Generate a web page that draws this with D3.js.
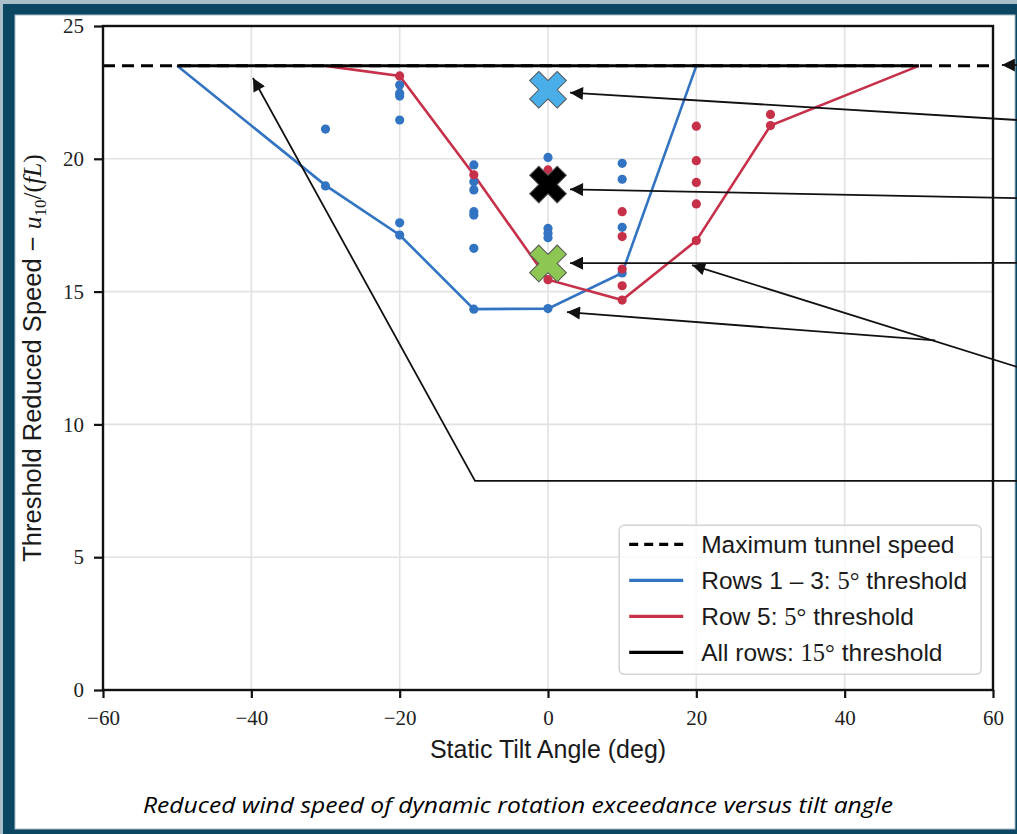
<!DOCTYPE html>
<html>
<head>
<meta charset="utf-8">
<script src="https://cdn.jsdelivr.net/npm/d3@7"></script>
<style>
  body { margin: 0; background: #0b4662; }
  svg { display: block; }
  text { font-family: "Liberation Sans", Arial, sans-serif; fill: #1a1a1a; }
  .tick text { font-family: "Liberation Serif", "DejaVu Serif", serif; font-size: 21px; fill: #222; }
  .grid line { stroke: #e2e2e2; stroke-width: 1.6; }
  .math { font-family: "Liberation Serif", serif; }
</style>
</head>
<body>
<div id="wrapper"></div>
<script>
// data (static tilt angle in deg, threshold reduced speed)
const maxTunnelSpeed = 23.5
const xTicks = [-60, -40, -20, 0, 20, 40, 60]
const yTicks = [0, 5, 10, 15, 20, 25]

const blueLineX = [-50, -30, -20, -10, 0, 10, 20]
const blueLineY = [23.5, 19.0, 17.13, 14.34, 14.36, 15.7, 23.5]

const redLineX = [-30, -20, -10, 0, 10, 20, 30, 50]
const redLineY = [23.5, 23.12, 19.4, 15.45, 14.68, 16.92, 21.25, 23.5]

const blackLineX = [-50, 50]
const blackLineY = [23.5, 23.5]

const blueDotsX = [-30, -30, -20, -20, -20, -20, -20, -20, -10, -10, -10, -10, -10, -10, -10, 0, 0, 0, 0, 0, 10, 10, 10, 10]
const blueDotsY = [21.12, 18.98, 22.78, 22.47, 22.36, 21.46, 17.59, 17.13, 19.77, 19.14, 18.83, 18.01, 17.88, 16.63, 14.34, 20.05, 17.38, 17.2, 17.03, 14.36, 19.83, 19.23, 17.42, 15.7]

const redDotsX = [-20, -10, 0, 0, 10, 10, 10, 10, 10, 20, 20, 20, 20, 20, 30, 30]
const redDotsY = [23.12, 19.4, 19.58, 15.45, 18.01, 17.07, 15.85, 15.22, 14.68, 21.23, 19.93, 19.11, 18.3, 16.92, 21.67, 21.25]

const crossX = [0, 0, 0]
const crossY = [22.6, 19.03, 16.06]

// annotation arrows, tail first, tip last (data units, tails lie past the axis)
const annotations = [
  [[64, 23.53], [61.2, 23.53]],
  [[63.3, 21.46], [2.97, 22.49]],
  [[63.3, 18.52], [2.97, 18.85]],
  [[63.3, 16.08], [2.97, 16.07]],
  [[63.3, 12.16], [19.42, 16.0]],
  [[52.2, 13.16], [2.56, 14.23]],
  [[63.3, 7.87], [-9.84, 7.87], [-39.78, 23.04]]
]

const legendLabels = ["Maximum tunnel speed", "Rows 1 \u2013 3: ", "Row 5: ", "All rows: "]
const legendMath = ["", "5°", "5°", "15°"]

const blue = "#3274c2"
const red = "#c73049"
const crossColors = ["#4aaee8", "#000000", "#8dc653"]

const width = 1017
const height = 834
const margin = { top: 26, right: 24, bottom: 144, left: 103 }
const boundedWidth = width - margin.left - margin.right
const boundedHeight = height - margin.top - margin.bottom

const svg = d3.select("#wrapper").append("svg")
    .attr("width", width)
    .attr("height", height)

// frame
svg.append("rect").attr("width", width).attr("height", height).attr("fill", "#a9c0cb")
svg.append("rect").attr("x", 3).attr("y", 4).attr("width", width - 3).attr("height", height - 4).attr("fill", "#0b4662")
svg.append("rect").attr("x", 15).attr("y", 15).attr("width", 1000).attr("height", 814)
    .attr("fill", "#fff").attr("stroke", "#a9c0cb").attr("stroke-width", 1)

const defs = svg.append("defs")
defs.append("clipPath").attr("id", "clip")
  .append("rect").attr("x", 15).attr("y", 15).attr("width", 1002).attr("height", 814)
defs.append("marker")
    .attr("id", "head")
    .attr("viewBox", "0 -5 10 10")
    .attr("refX", 10)
    .attr("markerUnits", "userSpaceOnUse")
    .attr("markerWidth", 15)
    .attr("markerHeight", 13)
    .attr("orient", "auto")
  .append("path")
    .attr("d", "M0,-5L10,0L0,5Z")
    .attr("fill", "#111")

const bounds = svg.append("g")
    .attr("transform", `translate(${margin.left}, ${margin.top})`)

const xScale = d3.scaleLinear().domain([-60, 60]).range([0, boundedWidth])
const yScale = d3.scaleLinear().domain([0, 25]).range([boundedHeight, 0])

// grid
const grid = bounds.append("g").attr("class", "grid")
grid.selectAll(".gx").data(xTicks.slice(1, -1)).join("line")
    .attr("x1", d => xScale(d)).attr("x2", d => xScale(d))
    .attr("y1", 0).attr("y2", boundedHeight)
grid.selectAll(".gy").data(yTicks.slice(1, -1)).join("line")
    .attr("x1", 0).attr("x2", boundedWidth)
    .attr("y1", d => yScale(d)).attr("y2", d => yScale(d))

// axes
const xAxis = bounds.append("g")
    .attr("transform", `translate(0, ${boundedHeight})`)
    .call(d3.axisBottom(xScale).tickValues(xTicks).tickSize(8).tickPadding(12))
const yAxis = bounds.append("g")
    .call(d3.axisLeft(yScale).tickValues(yTicks).tickSize(9).tickPadding(10))
bounds.selectAll(".domain").remove()
bounds.selectAll(".tick line").attr("stroke", "#111").attr("stroke-width", 2.2)

// lines
const line = d3.line().x(d => xScale(d[0])).y(d => yScale(d[1]))
const zip = (xs, ys) => xs.map((x, i) => [x, ys[i]])

bounds.append("path").datum(zip(blueLineX, blueLineY))
    .attr("d", line).attr("fill", "none").attr("stroke", blue).attr("stroke-width", 2.6)
bounds.append("path").datum(zip(redLineX, redLineY))
    .attr("d", line).attr("fill", "none").attr("stroke", red).attr("stroke-width", 2.6)

bounds.selectAll(".blue-dot").data(zip(blueDotsX, blueDotsY)).join("circle")
    .attr("cx", d => xScale(d[0])).attr("cy", d => yScale(d[1]))
    .attr("r", 4.6).attr("fill", blue)
bounds.selectAll(".red-dot").data(zip(redDotsX, redDotsY)).join("circle")
    .attr("cx", d => xScale(d[0])).attr("cy", d => yScale(d[1]))
    .attr("r", 4.6).attr("fill", red)

bounds.append("line")
    .attr("x1", xScale(-60)).attr("x2", xScale(60))
    .attr("y1", yScale(maxTunnelSpeed)).attr("y2", yScale(maxTunnelSpeed))
    .attr("stroke", "#000").attr("stroke-width", 3).attr("stroke-dasharray", "12,7")
bounds.append("path").datum(zip(blackLineX, blackLineY))
    .attr("d", line).attr("fill", "none").attr("stroke", "#000").attr("stroke-width", 3)

// spines
bounds.append("rect")
    .attr("width", boundedWidth).attr("height", boundedHeight)
    .attr("fill", "none").attr("stroke", "#111").attr("stroke-width", 2.4)

// cross markers
const cross = d3.symbol().type(d3.symbolCross).size(845)
bounds.selectAll(".cross").data(zip(crossX, crossY)).join("path")
    .attr("d", cross)
    .attr("transform", d => `translate(${xScale(d[0])}, ${yScale(d[1])}) rotate(45)`)
    .attr("fill", (d, i) => crossColors[i])
    .attr("stroke", "#555").attr("stroke-width", 1)

// annotations
svg.append("g").attr("clip-path", "url(#clip)")
  .selectAll("path").data(annotations).join("path")
    .attr("transform", `translate(${margin.left}, ${margin.top})`)
    .attr("d", line)
    .attr("fill", "none")
    .attr("stroke", "#111")
    .attr("stroke-width", 1.8)
    .attr("marker-end", "url(#head)")

// legend
const legend = bounds.append("g")
    .attr("transform", `translate(${xScale(9.6)}, ${yScale(6.2)})`)
legend.append("rect")
    .attr("width", 362).attr("height", 149).attr("rx", 5)
    .attr("fill", "#fff").attr("fill-opacity", 0.8)
    .attr("stroke", "#d4d4d4").attr("stroke-width", 1.5)
const legendStyles = [
  { stroke: "#000", dash: "9,6" },
  { stroke: blue, dash: null },
  { stroke: red, dash: null },
  { stroke: "#000", dash: null }
]
const rows = legend.selectAll(".row").data(legendLabels).join("g")
    .attr("transform", (d, i) => `translate(0, ${19 + i * 36})`)
rows.append("line")
    .attr("x1", 10).attr("x2", 64)
    .attr("stroke", (d, i) => legendStyles[i].stroke)
    .attr("stroke-dasharray", (d, i) => legendStyles[i].dash)
    .attr("stroke-width", 3.2)
const rowText = rows.append("text")
    .attr("x", 82).attr("y", 8.5)
    .style("font-size", "24.5px")
rowText.append("tspan").text(d => d)
rowText.append("tspan").attr("class", "math").text((d, i) => legendMath[i])
rowText.append("tspan").text((d, i) => i ? " threshold" : "")

// axis labels
svg.append("text")
    .attr("x", margin.left + xScale(0)).attr("y", 758)
    .attr("text-anchor", "middle")
    .style("font-size", "25px")
    .text("Static Tilt Angle (deg)")

const yLabel = svg.append("text")
    .attr("transform", `translate(41, ${margin.top + boundedHeight / 2}) rotate(-90)`)
    .attr("text-anchor", "middle")
    .style("font-size", "25.5px")
yLabel.append("tspan").text("Threshold Reduced Speed \u2212 ")
yLabel.append("tspan").attr("class", "math").style("font-style", "italic").text("u")
yLabel.append("tspan").attr("class", "math").style("font-size", "17px").attr("dy", 5).text("10")
yLabel.append("tspan").attr("class", "math").attr("dy", -5).text("/(")
yLabel.append("tspan").attr("class", "math").style("font-style", "italic").text("fL")
yLabel.append("tspan").attr("class", "math").text(")")

// caption
svg.append("text")
    .attr("x", 518).attr("y", 813)
    .attr("text-anchor", "middle")
    .attr("textLength", 750)
    .attr("lengthAdjust", "spacingAndGlyphs")
    .style("font-family", "'Open Sans', sans-serif")
    .style("font-style", "italic")
    .style("font-weight", 500)
    .style("font-size", "22px")
    .style("fill", "#000")
    .text("Reduced wind speed of dynamic rotation exceedance versus tilt angle")
</script>
</body>
</html>
